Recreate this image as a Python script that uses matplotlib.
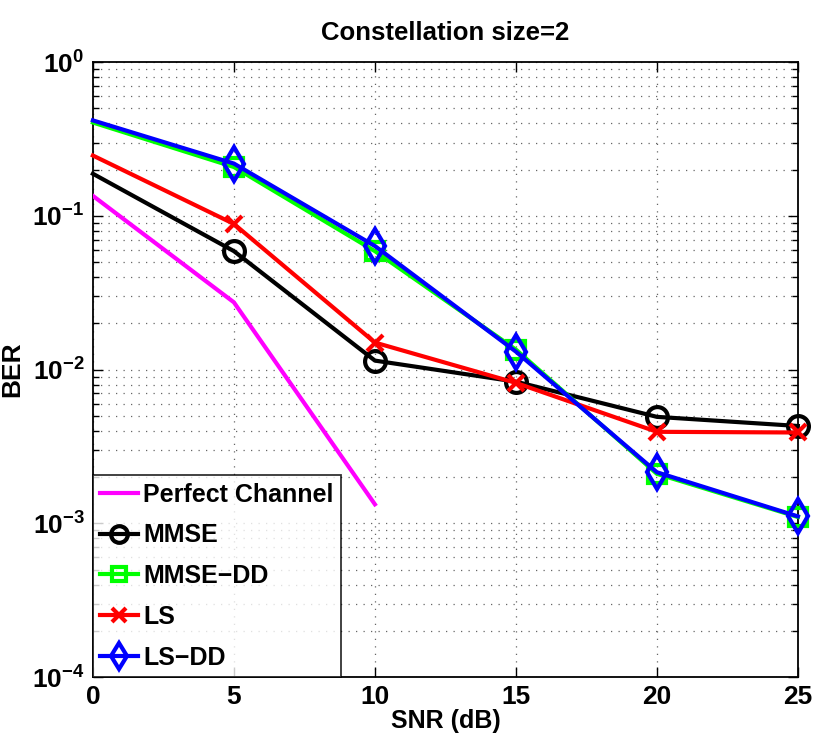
import matplotlib
matplotlib.use("Agg")
import matplotlib.pyplot as plt
from matplotlib.ticker import LogLocator, NullFormatter

fam = 'Liberation Sans'
plt.rcParams['font.family'] = [fam, 'DejaVu Sans']
plt.rcParams['font.weight'] = 'bold'
plt.rcParams['mathtext.fontset'] = 'custom'
plt.rcParams['mathtext.rm'] = fam + ':bold'
plt.rcParams['mathtext.bf'] = fam + ':bold'
plt.rcParams['mathtext.default'] = 'bf'

snr = [0, 5, 10, 15, 20, 25]
snr_perfect = [0, 5, 10]
ber_perfect = [0.135, 0.0274, 0.00133]
ber_mmse = [0.188, 0.059, 0.01145, 0.00835, 0.00493, 0.0043]
ber_mmse_dd = [0.405, 0.208, 0.059, 0.0135, 0.0021, 0.0011]
ber_ls = [0.247, 0.0887, 0.015, 0.0082, 0.00394, 0.0039]
ber_ls_dd = [0.418, 0.219, 0.0637, 0.0131, 0.00215, 0.00111]
xticks = [0, 5, 10, 15, 20, 25]

fig = plt.figure(figsize=(8.15, 7.49), dpi=100)
ax = fig.add_axes([0.114, 0.096, 0.865, 0.821])

lw = 3
mk = dict(markevery=[1, 2, 3, 4, 5], clip_on=False, mew=3)
ax.semilogy(snr_perfect, ber_perfect, color='#ff00ff', lw=lw, label='Perfect Channel', zorder=3)
ax.semilogy(snr, ber_mmse, color='black', lw=lw, marker='o', ms=15, mfc='none', label='MMSE', zorder=3, **mk)
ax.semilogy(snr, ber_mmse_dd, color='#00ff00', lw=lw, marker='s', ms=13, mfc='none', label='MMSE\u2212DD', zorder=3, **mk)
ax.semilogy(snr, ber_ls, color='red', lw=lw, marker='x', ms=12, label='LS', zorder=3, **mk)
ax.semilogy(snr, ber_ls_dd, color='blue', lw=lw, marker='d', ms=17, mfc='none', label='LS\u2212DD', zorder=3, **mk)

ax.set_xlim(0, 25)
ax.set_ylim(1e-4, 1)
ax.set_xticks(xticks)
ax.set_xticklabels([str(t) for t in xticks])
ax.yaxis.set_major_locator(LogLocator(base=10, numticks=10))
ax.yaxis.set_minor_locator(LogLocator(base=10, subs=range(2, 10), numticks=10))
ax.yaxis.set_minor_formatter(NullFormatter())

gs = dict(linestyle=(0, (1, 5)), color='#666666', lw=0.9)
ax.grid(True, which='major', **gs)
ax.grid(True, which='minor', axis='y', **gs)
ax.tick_params(axis='both', which='both', direction='in', top=True, right=True, width=1)
ax.tick_params(axis='both', which='major', length=7, pad=6, labelsize=19)
ax.tick_params(axis='y', which='minor', length=4)
for lab in ax.get_xticklabels() + ax.get_yticklabels():
    lab.set_fontweight('bold')
for s in ax.spines.values():
    s.set_linewidth(1.3)

ax.set_xlabel('SNR (dB)', fontsize=18, fontweight='bold', labelpad=0)
ax.set_ylabel('BER', fontsize=19, fontweight='bold', labelpad=6)
ax.set_title('Constellation size=2', fontsize=18.5, fontweight='bold', pad=16)

leg = ax.legend(loc='lower left', fontsize=18, frameon=True, fancybox=False,
                edgecolor='black', borderaxespad=0.0, handlelength=1.5,
                handletextpad=0.2, labelspacing=0.67, borderpad=0.3,
                markerscale=0.8)
leg.get_frame().set_linewidth(1.3)
leg.set_zorder(5)
for t in leg.get_texts():
    t.set_fontweight('bold')

fig.savefig('out.png', dpi=100)
